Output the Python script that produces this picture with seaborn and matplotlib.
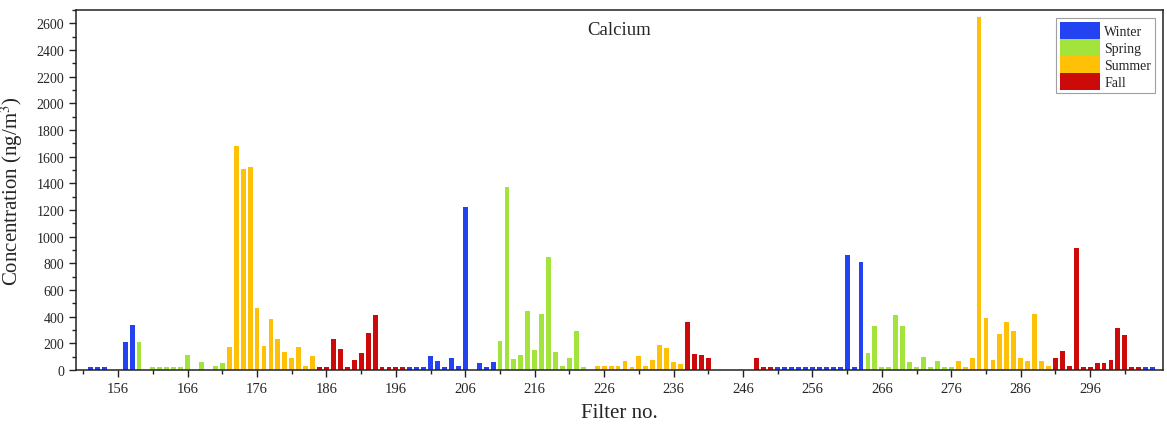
import numpy as np
import pandas as pd
import matplotlib
matplotlib.use("Agg")
import matplotlib.pyplot as plt
from matplotlib.ticker import MultipleLocator, FixedLocator
import seaborn as sns

# filter numbers, calcium concentration (ng/m3) and season of each filter
filter_no = [152, 153, 154, 157, 158, 159, 161, 162, 163, 164, 165, 166, 168, 170, 171,
             172, 173, 174, 175, 176, 177, 178, 179, 180, 181, 182, 183, 184,
             185, 186, 187, 188, 189, 190, 191, 192, 193, 194, 195, 196, 197,
             198, 199, 200, 201, 202, 203, 204, 205, 206, 208, 209, 210,
             211, 212, 213, 214, 215, 216, 217, 218, 219, 220, 221, 222, 223,
             225, 226, 227, 228, 229, 230, 231, 232, 233, 234, 235, 236, 237,
             238, 239, 240, 241, 248, 249, 250,
             251, 252, 253, 254, 255, 256, 257, 258, 259, 260, 261, 262, 263,
             264, 265, 266, 267, 268, 269, 270, 271, 272, 273, 274, 275, 276,
             277, 278, 279, 280, 281, 282, 283, 284, 285, 286, 287, 288, 289, 290,
             291, 292, 293, 294, 295, 296, 297, 298, 299, 300, 301, 302, 303,
             304, 305]

calcium = [25, 25, 25, 210, 335, 212, 25, 25, 25, 25, 25, 115, 59, 27, 54,
           174, 1680, 1510, 1520, 463, 181, 385, 230, 135, 91, 169, 27, 108,
           25, 25, 235, 154, 25, 71, 125, 277, 414, 25, 25, 25, 25,
           25, 25, 25, 108, 66, 25, 91, 27, 1225, 54, 25, 56,
           218, 1370, 83, 115, 439, 152, 417, 850, 132, 27, 91, 294, 25,
           27, 27, 27, 27, 69, 25, 105, 27, 76, 189, 167, 56, 42,
           360, 118, 113, 91, 86, 25, 25,
           25, 25, 25, 25, 25, 25, 25, 25, 25, 25, 862, 25, 812,
           125, 331, 25, 25, 409, 328, 61, 25, 100, 25, 66, 25, 25,
           64, 25, 93, 2650, 387, 76, 270, 363, 294, 91, 64, 417, 69, 27,
           86, 145, 27, 915, 25, 25, 54, 54, 78, 311, 265, 25, 25,
           25, 25]

season = (["Winter"] * 5 + ["Spring"] * 10 + ["Summer"] * 13 + ["Fall"] * 13 +
          ["Winter"] * 12 + ["Spring"] * 13 + ["Summer"] * 13 + ["Fall"] * 7 +
          ["Winter"] * 13 + ["Spring"] * 13 + ["Summer"] * 14 + ["Fall"] * 13 +
          ["Winter"] * 2)

seasons = ["Winter", "Spring", "Summer", "Fall"]
colors = {"Winter": "#2342f0", "Spring": "#a2e33c", "Summer": "#ffc107", "Fall": "#cc0a0a"}

df = pd.DataFrame({"filter": filter_no, "ca": calcium, "season": season})

sns.set_style("ticks")
plt.rcParams["font.family"] = ["Liberation Serif", "DejaVu Serif"]
plt.rcParams["mathtext.fontset"] = "stix"

fig = plt.figure(figsize=(11.67, 4.39), dpi=100)
ax = fig.add_axes([0.065, 0.155, 0.9316, 0.82])

sns.barplot(data=df, x="filter", y="ca", hue="season", hue_order=seasons,
            palette=colors, native_scale=True, dodge=False,
            saturation=1, linewidth=0, ax=ax)

# seaborn scales native widths oddly with hue; make every bar 0.7 units wide
for p in ax.patches:
    c = p.get_x() + p.get_width() / 2
    p.set_width(0.7)
    p.set_x(c - 0.35)

ax.set_xlim(149.9, 306.5)
ax.set_ylim(0, 2700)
ax.xaxis.set_major_locator(FixedLocator(np.arange(156, 300, 10)))
ax.xaxis.set_minor_locator(FixedLocator(np.arange(151, 306, 10)))
ax.yaxis.set_major_locator(MultipleLocator(200))
ax.yaxis.set_minor_locator(MultipleLocator(100))
ax.tick_params(axis="both", which="major", direction="out", length=5, width=1,
               labelsize=10.5, color="#222222")
ax.tick_params(axis="both", which="minor", direction="out", length=3, width=1,
               color="#222222")
ax.tick_params(axis="y", labelsize=10)

for s in ax.spines.values():
    s.set_visible(True)
    s.set_linewidth(1.1)
    s.set_color("#222222")

ax.set_xlabel("Filter no.", fontsize=15, labelpad=6)
ax.set_ylabel("Concentration (ng/m$^3$)", fontsize=15, labelpad=8)
ax.text(0.5, 0.945, "Calcium", transform=ax.transAxes, ha="center", va="center",
        fontsize=13.5)

handles, labels = ax.get_legend_handles_labels()
leg = ax.legend(handles, labels, loc="upper right", fontsize=10, frameon=True,
                fancybox=False, edgecolor="#888888", handlelength=2.9,
                handleheight=1.5, labelspacing=0.0, handletextpad=0.3,
                borderpad=0.25, borderaxespad=0.6)
leg.get_frame().set_linewidth(0.8)

fig.savefig("out.png", dpi=100)
